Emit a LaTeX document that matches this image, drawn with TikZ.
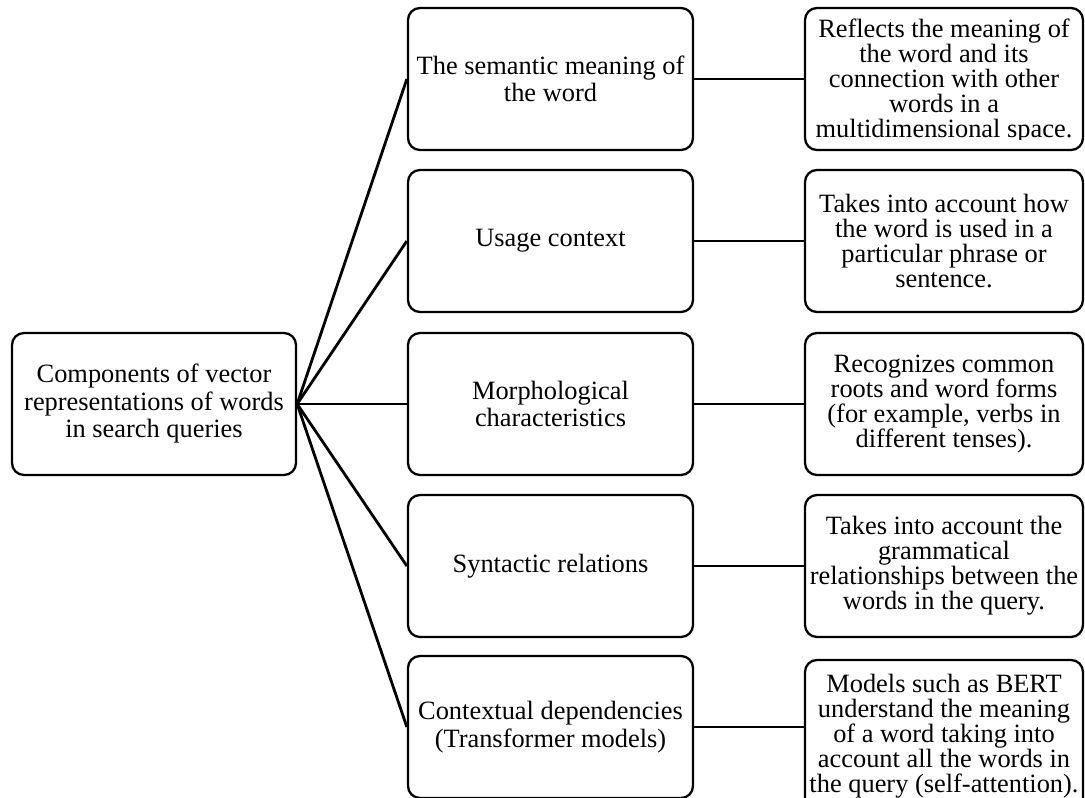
\documentclass[tikz,border=0pt]{standalone}
\usepackage{fontspec}
\setmainfont{Liberation Serif}
\begin{document}
\begin{tikzpicture}[x=1pt,y=-1pt,
  box/.style={draw, line width=2.3pt, rounded corners=12pt, inner sep=0pt, align=center},
  lbox/.style={box, minimum width=284pt, minimum height=142pt, font=\fontsize{26.4}{27.5}\selectfont},
  mbox/.style={box, minimum width=285pt, minimum height=142pt, font=\fontsize{26.4}{27.5}\selectfont},
  rbox/.style={box, minimum width=278pt, minimum height=142pt, font=\fontsize{26.4}{25}\selectfont},
  rtext/.style={inner sep=0pt, align=center, font=\fontsize{26.4}{25}\selectfont},
  conn/.style={line width=2.8pt}]
\useasboundingbox (0,0) rectangle (1085,798);
\clip (0,0) rectangle (1085,798);

\node[lbox] (L) at (154,404) {Components of vector\\representations of words\\in search queries};

\node[mbox] (M1) at (550.5,79) {The semantic meaning of\\the word};
\node[mbox] (M2) at (550.5,241) {Usage context};
\node[mbox] (M3) at (550.5,404) {Morphological\\characteristics};
\node[mbox] (M4) at (550.5,566) {Syntactic relations};
\node[mbox] (M5) at (550.5,727) {Contextual dependencies\\(Transformer models)};

\node[rbox] (R1) at (944,79) {};
\node[rbox] (R2) at (944,241) {Takes into account how\\the word is used in a\\particular phrase or\\sentence.};
\node[rbox] (R3) at (944,404) {Recognizes common\\roots and word forms\\(for example, verbs in\\different tenses).};
\node[rbox] (R4) at (944,566) {Takes into account the\\grammatical\\relationships between the\\words in the query.};
\node[rbox, minimum height=152pt] (R5) at (944,736) {};

\begin{scope}
  \clip ([xshift=-10pt]R1.north west) rectangle ([xshift=10pt,yshift=12pt]R1.south east);
  \node[rtext] (T1) at ([yshift=-2pt]R1.center) {Reflects the meaning of\\the word and its\\connection with other\\words in a\\multidimensional space.};
\end{scope}
\node[rtext] (T5) at (R5.center) {Models such as BERT\\understand the meaning\\of a word taking into\\account all the words in\\the query (self-attention).};

\foreach \m in {M1,M2,M3,M4,M5} {
  \draw[conn] (L.east) -- (\m.west);
}
\draw[conn] (M1.east) -- (R1.west);
\draw[conn] (M2.east) -- (R2.west);
\draw[conn] (M3.east) -- (R3.west);
\draw[conn] (M4.east) -- (R4.west);
\draw[conn] (M5.east) -- (M5.east -| R5.west);
\end{tikzpicture}
\end{document}
